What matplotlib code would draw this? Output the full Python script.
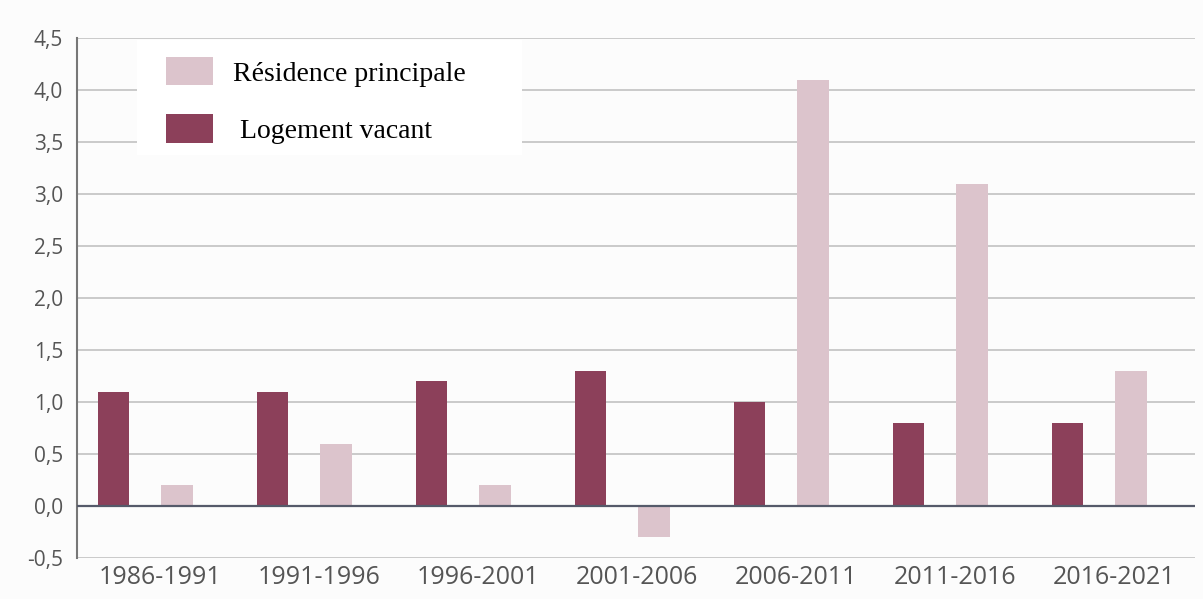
import numpy as np
import matplotlib
matplotlib.use('Agg')
import matplotlib.pyplot as plt
from matplotlib.patches import Rectangle
from matplotlib.transforms import ScaledTranslation

periods = ['1986-1991', '1991-1996', '1996-2001', '2001-2006',
           '2006-2011', '2011-2016', '2016-2021']
logement_vacant = [1.1, 1.1, 1.2, 1.3, 1.0, 0.8, 0.8]
residence_principale = [0.2, 0.6, 0.2, -0.3, 4.1, 3.1, 1.3]
yticks = [-0.5, 0.0, 0.5, 1.0, 1.5, 2.0, 2.5, 3.0, 3.5, 4.0, 4.5]

dark = '#8c405a'
light = '#dcc4cc'

fig = plt.figure(figsize=(12.03, 5.99), dpi=100, facecolor='#fcfcfc')
ax = fig.add_axes([0.064, 0.0684, 0.929, 0.8682])
ax.set_facecolor('#fcfcfc')

x = np.arange(len(periods))
w = 0.2
b1 = ax.bar(x - 0.2, logement_vacant, width=w, color=dark, label=' Logement vacant', zorder=3)
b2 = ax.bar(x + 0.2, residence_principale, width=w, color=light, label='Résidence principale', zorder=3)

ax.set_xlim(-0.43, 6.6)
ax.set_ylim(-0.5, 4.5)
ax.set_yticks(yticks)
ax.set_yticklabels([f'{v:.1f}'.replace('.', ',') for v in yticks],
                   fontsize=15, color='#555555', family='Open Sans')
ax.set_xticks(x)
ax.set_xticklabels(periods, fontsize=18, color='#555555', family='Open Sans')
ax.tick_params(axis='y', length=0, pad=10)
ax.tick_params(axis='x', length=0, pad=5)
# labels sit a little right of the bar pairs in the original
shift = ScaledTranslation(0.15, 0, fig.dpi_scale_trans)
for lab in ax.get_xticklabels():
    lab.set_transform(lab.get_transform() + shift)

ax.grid(axis='y', color='#c6c6c6', linewidth=1.3, zorder=0)
ax.axhline(0, color='#555a6a', linewidth=1.6, zorder=4)
for s in ['top', 'right', 'bottom']:
    ax.spines[s].set_visible(False)
ax.spines['left'].set_color('#777777')
ax.spines['left'].set_linewidth(1.5)

# white box behind the legend
fig.patches.append(Rectangle((0.1139, 0.7412), 0.32, 0.192, transform=fig.transFigure,
                             facecolor='white', edgecolor='none', zorder=5))

leg = fig.legend(handles=[b2, b1], loc='upper left', bbox_to_anchor=(0.138, 0.905),
                 prop={'family': 'Liberation Serif', 'size': 20},
                 frameon=False, borderaxespad=0, borderpad=0,
                 labelspacing=1.0, handlelength=1.7, handleheight=1.2,
                 handletextpad=0.7)
leg.set_zorder(6)

fig.savefig('out.png', dpi=100, facecolor=fig.get_facecolor())
